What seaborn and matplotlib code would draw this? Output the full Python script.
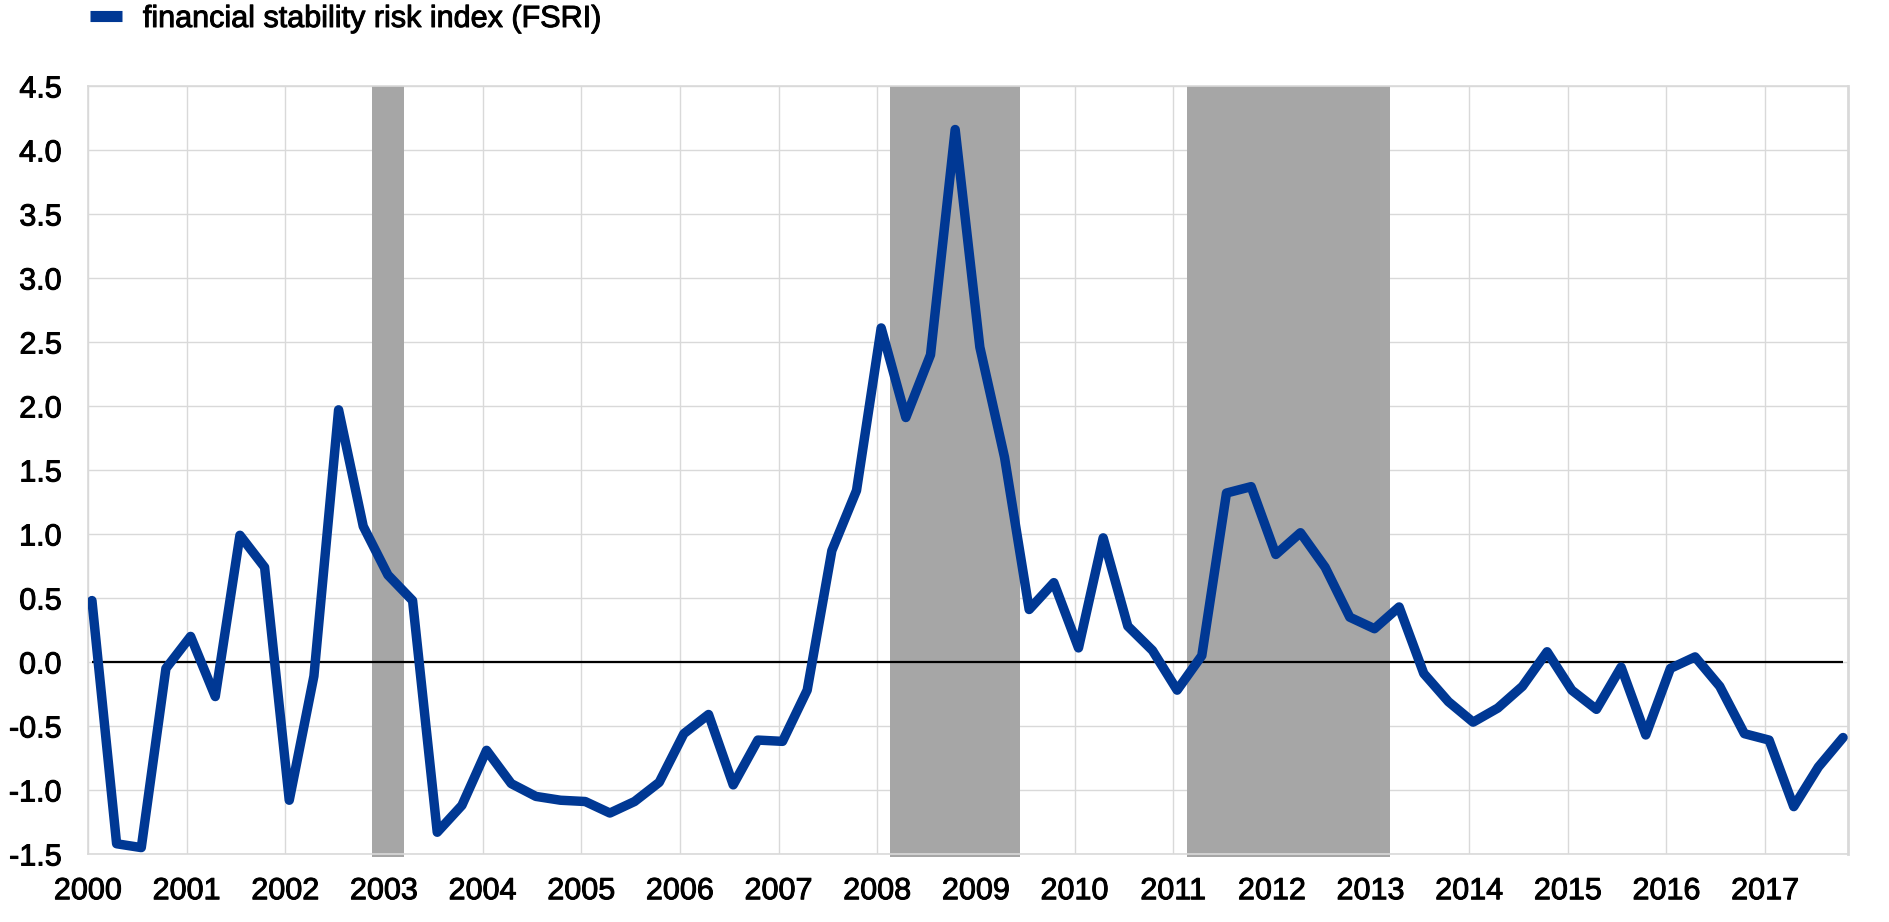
import numpy as np
import pandas as pd
import matplotlib
matplotlib.use("Agg")
import matplotlib.pyplot as plt
import matplotlib.patheffects as pe
from matplotlib.lines import Line2D
import seaborn as sns

# ---------------- data ----------------
series_name = "financial stability risk index (FSRI)"
start_year = 2000
n_quarters = 72  # 2000Q1 .. 2017Q4
fsri = [
    0.48, -1.42, -1.45, -0.05, 0.20, -0.27, 0.99, 0.74,
    -1.08, -0.11, 1.97, 1.06, 0.68, 0.48, -1.33, -1.12,
    -0.69, -0.95, -1.05, -1.08, -1.09, -1.18, -1.09, -0.94,
    -0.56, -0.41, -0.96, -0.61, -0.62, -0.22, 0.87, 1.34,
    2.61, 1.91, 2.40, 4.16, 2.46, 1.60, 0.41, 0.62,
    0.11, 0.97, 0.28, 0.09, -0.22, 0.05, 1.32, 1.37,
    0.84, 1.01, 0.74, 0.35, 0.26, 0.43, -0.09, -0.31,
    -0.47, -0.36, -0.19, 0.08, -0.22, -0.37, -0.04, -0.57,
    -0.05, 0.04, -0.19, -0.56, -0.61, -1.13, -0.82, -0.59,
]
year_ticks = list(range(2000, 2018))
y_ticks = [-1.5, -1.0, -0.5, 0.0, 0.5, 1.0, 1.5, 2.0, 2.5, 3.0, 3.5, 4.0, 4.5]
shade_starts = [2002.88, 2008.13, 2011.14]
shade_ends = [2003.20, 2009.45, 2013.20]

# time axis (fractional years, one point per quarter)
t = [start_year + 0.04 + 0.25 * i for i in range(n_quarters)]
df = pd.DataFrame({"time": t, "fsri": fsri})

# ---------------- style ----------------
sns.set_theme(style="white")
plt.rcParams["font.family"] = ["Liberation Sans", "DejaVu Sans"]
plt.rcParams["text.color"] = "black"

W, H = 1890, 922
fig = plt.figure(figsize=(W / 100, H / 100), dpi=100)
ax = fig.add_axes([88 / W, 1 - 854 / H, (1848 - 88) / W, (854 - 86) / H])

blue = "#003894"
grid_c = "#d9d9d9"
fs = 22
heavier = [pe.withStroke(linewidth=0.7, foreground="black")]

for s, e in zip(shade_starts, shade_ends):
    ax.axvspan(s, e, ymin=-0.004, ymax=1.0, color="#a6a6a6", lw=0, zorder=1, clip_on=False)

ax.hlines(0, df["time"].iloc[0], df["time"].iloc[-1], color="black", lw=1.6, zorder=2)

sns.lineplot(data=df, x="time", y="fsri", ax=ax, color=blue, lw=6.8,
             zorder=3, legend=False)
for ln in ax.get_lines():
    ln.set_solid_joinstyle("round")
    ln.set_solid_capstyle("round")

ax.set_xlim(2000, 2017.84)
ax.set_ylim(-1.5, 4.5)
ax.set_xticks(year_ticks)
ax.set_xticklabels([str(y) for y in year_ticks])
ax.set_yticks(y_ticks)
ax.set_yticklabels([f"{v:.1f}" for v in y_ticks])
ax.set_xlabel("")
ax.set_ylabel("")

ax.grid(True, color=grid_c, lw=1.0, zorder=0)
ax.set_axisbelow(True)
for sp in ax.spines.values():
    sp.set_color(grid_c)
    sp.set_linewidth(1.2)
ax.spines["right"].set_linewidth(2.0)

ax.tick_params(axis="both", length=0, labelsize=fs, colors="black")
ax.tick_params(axis="x", pad=16)
ax.tick_params(axis="y", pad=19)
for lab in ax.get_xticklabels() + ax.get_yticklabels():
    lab.set_path_effects(heavier)

handle = Line2D([0], [0], color=blue, lw=8, solid_capstyle="butt")
leg = fig.legend([handle], [series_name], loc="center left",
                 bbox_to_anchor=(90 / W, 1 - 19 / H), bbox_transform=fig.transFigure,
                 frameon=False, fontsize=fs, handlelength=1.05, handletextpad=0.68,
                 borderpad=0, borderaxespad=0, labelcolor="black")
for txt in leg.get_texts():
    txt.set_path_effects(heavier)

fig.savefig("out.png", dpi=100)
